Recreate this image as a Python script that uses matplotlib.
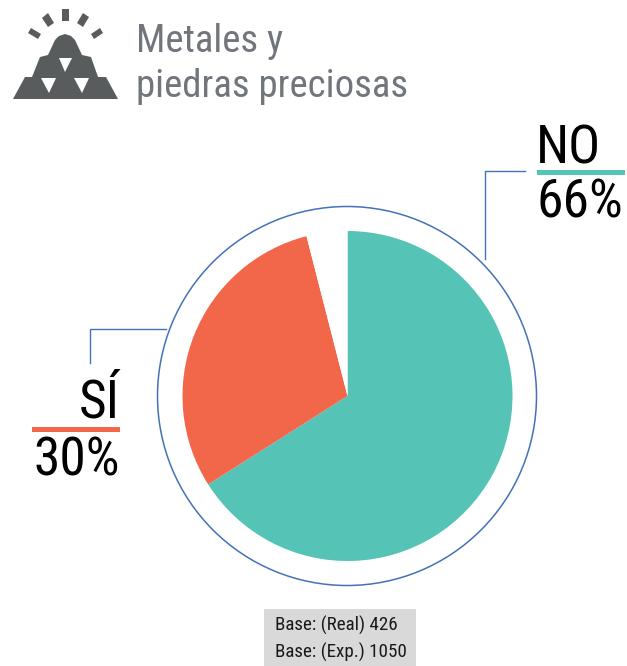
import matplotlib
matplotlib.use("Agg")
import matplotlib.pyplot as plt
from matplotlib.patches import Polygon, Circle, Rectangle

FONT = "Roboto Condensed"

categories = ["NO", "SÍ", ""]
values = [66, 30, 4]
percent_labels = ["66%", "30%"]
colors = ["#55C3B5", "#F2664A", "#FFFFFF"]
title_lines = ["Metales y", "piedras preciosas"]
base_lines = ["Base: (Real) 426", "Base: (Exp.) 1050"]

W, H = 627, 666
fig = plt.figure(figsize=(W / 100, H / 100), dpi=100)
ax = fig.add_axes([0, 0, 1, 1])

def Y(y):
    return H - y

ax.pie(values, colors=colors, startangle=90, counterclock=False,
       center=(347.5, Y(396)), radius=165, frame=True,
       wedgeprops=dict(linewidth=0))
ax.set_xlim(0, W)
ax.set_ylim(0, H)
ax.set_aspect("equal")
ax.axis("off")

LINE = "#4472B8"
ax.add_patch(Circle((347, Y(396)), 189.5, fill=False, ec=LINE, lw=1.1))
ax.plot([485, 485, 525], [Y(259), Y(171), Y(171)], color=LINE, lw=1.0, solid_joinstyle="miter")
ax.plot([90, 90, 166], [Y(363), Y(329), Y(329)], color=LINE, lw=1.0, solid_joinstyle="miter")

# label bars
ax.add_patch(Rectangle((537, Y(175)), 88, 5, fc=colors[0], lw=0))
ax.add_patch(Rectangle((32, Y(432)), 88, 5, fc=colors[1], lw=0))

BIG = 38.5
ax.text(536, Y(164), categories[0], fontsize=BIG, family=FONT, color="black", ha="left", va="baseline")
ax.text(536, Y(218), percent_labels[0], fontsize=BIG, family=FONT, color="black", ha="left", va="baseline")
ax.text(120, Y(418), categories[1], fontsize=BIG, family=FONT, color="black", ha="right", va="baseline")
ax.text(120, Y(476), percent_labels[1], fontsize=BIG, family=FONT, color="black", ha="right", va="baseline")

# title
TITLE = "#71767C"
ax.text(136.5, Y(52), title_lines[0], fontsize=28, family=FONT, color=TITLE, va="baseline")
ax.text(136.5, Y(97), title_lines[1], fontsize=28, family=FONT, color=TITLE, va="baseline")

# base box
ax.add_patch(Rectangle((264, 0), 152, Y(609), fc="#D9D9D9", lw=0))
ax.text(275, Y(631), base_lines[0], fontsize=13.7, family=FONT, color="#1A1A1A", va="baseline")
ax.text(275, Y(658), base_lines[1], fontsize=13.7, family=FONT, color="#1A1A1A", va="baseline")

# icon
ICON = "#585C5D"
mound = [(13, 99), (25, 77), (32, 77), (40, 57), (48, 55), (55, 40), (59, 36), (65, 34), (71, 36),
         (75, 40), (82, 55), (91, 57), (98, 77), (106, 77), (118, 99)]
ax.add_patch(Polygon([(x, Y(y)) for x, y in mound], fc=ICON, lw=0))
for tri in ([(59, 58), (72, 58), (65, 72)], [(41, 78), (56, 78), (49, 93)], [(74, 78), (89, 78), (82, 93)]):
    ax.add_patch(Polygon([(x, Y(y)) for x, y in tri], fc="white", lw=0))
rays = [[(62, 9), (69, 9), (69, 21), (62, 21)],
        [(42, 18), (48, 13), (54, 23), (48, 27)],
        [(77, 23), (83, 13), (89, 17), (83, 27)],
        [(28, 33), (31, 28), (41, 34), (38, 39)],
        [(91, 34), (100, 28), (103, 33), (94, 39)]]
for r in rays:
    ax.add_patch(Polygon([(x, Y(y)) for x, y in r], fc=ICON, lw=0))

fig.savefig("out.png", dpi=100, facecolor="white")
